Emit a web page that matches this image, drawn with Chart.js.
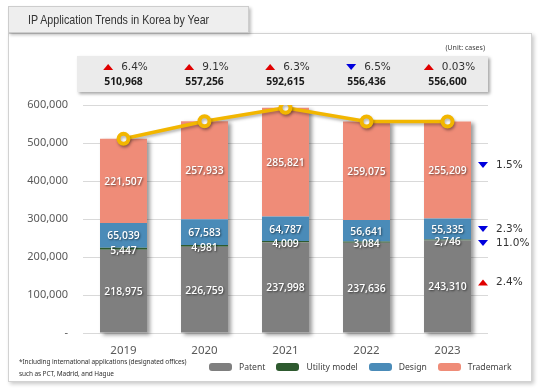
<!DOCTYPE html>
<html>
<head>
<meta charset="utf-8">
<script src="https://cdn.jsdelivr.net/npm/chart.js@4.4.1/dist/chart.umd.min.js"></script>
<style>
  html, body { margin: 0; padding: 0; background: #fff; }
  body { width: 545px; height: 391px; position: relative; overflow: hidden; font-family: "Noto Sans", sans-serif; }
  .frame { position: absolute; left: 8px; top: 33px; width: 522px; height: 347px; border: 1px solid #d2d2d2; background: #fff; box-shadow: 2px 2px 4px rgba(0,0,0,0.22); }
  .title { position: absolute; left: 8px; top: 6px; width: 239px; height: 25px; border: 1px solid #cdcdcd; background: #eeeeee; box-shadow: 2px 2px 3px rgba(0,0,0,0.25); z-index: 2; }
  .title span { position: absolute; left: 19px; top: 5px; font: 13px "Liberation Sans", Arial, sans-serif; color: #333; white-space: nowrap; transform: scaleX(0.82); transform-origin: left center; }
  #chart { position: absolute; left: 0; top: 0; z-index: 1; }
  .note { position: absolute; left: 19px; top: 356px; font-size: 6.5px; line-height: 12px; color: #333; z-index: 3; letter-spacing: -0.1px; }
  #legend { position: absolute; left: 209px; top: 361px; display: flex; align-items: center; font-size: 8.6px; color: #404040; z-index: 3; }
  #legend .item { display: flex; align-items: center; margin-right: 11px; }
  #legend .box { width: 23px; height: 8px; border-radius: 3px; margin-right: 7px; }
</style>
</head>
<body>
<div class="frame"></div>
<div class="title"><span>IP Application Trends in Korea by Year</span></div>
<canvas id="chart" width="545" height="391"></canvas>
<div class="note">*Including international applications (designated offices)<br>such as PCT, Madrid, and Hague</div>
<div id="legend"></div>
<script>
const years = ["2019", "2020", "2021", "2022", "2023"];

const patent = [218975, 226759, 237998, 237636, 243310];
const utilityModel = [5447, 4981, 4009, 3084, 2746];
const design = [65039, 67583, 64787, 56641, 55335];
const trademark = [221507, 257933, 285821, 259075, 255209];

const totals = [510968, 557256, 592615, 556436, 556600];
const totalChange = [6.4, 9.1, 6.3, -6.5, 0.03];

// 2023 change by type: patent, utility model, design, trademark
const typeChange2023 = [2.4, -11.0, -2.3, -1.5];

const yTicks = [0, 100000, 200000, 300000, 400000, 500000, 600000];

const fmt = (n) => n.toLocaleString("en-US");
const pctText = (v) => Math.abs(v).toFixed(Math.abs(v) < 0.1 ? 2 : 1) + "%";

function triangle(ctx, cx, cy, up) {
  ctx.beginPath();
  if (up) {
    ctx.moveTo(cx - 5, cy + 3);
    ctx.lineTo(cx + 5, cy + 3);
    ctx.lineTo(cx, cy - 3);
  } else {
    ctx.moveTo(cx - 5, cy - 3);
    ctx.lineTo(cx + 5, cy - 3);
    ctx.lineTo(cx, cy + 3);
  }
  ctx.closePath();
  ctx.fillStyle = up ? "#e00000" : "#0000dd";
  ctx.fill();
}

const headerBox = {
  id: "headerBox",
  beforeDraw(chart) {
    const { ctx, chartArea, scales: { x } } = chart;
    ctx.save();
    ctx.shadowColor = "rgba(0,0,0,0.35)";
    ctx.shadowBlur = 3;
    ctx.shadowOffsetX = 2;
    ctx.shadowOffsetY = 2;
    ctx.fillStyle = "#ebebeb";
    ctx.fillRect(chartArea.left - 6, 56, chartArea.right - chartArea.left + 6, 36);
    ctx.restore();

    ctx.save();
    ctx.textBaseline = "middle";
    ctx.fillStyle = "#404040";
    ctx.font = '7px "Noto Sans"';
    ctx.textAlign = "right";
    ctx.fillText("(Unit: cases)", chartArea.right - 3, 48);

    totals.forEach((t, i) => {
      const cx = x.getPixelForValue(i);
      const label = pctText(totalChange[i]);
      ctx.font = '10.5px "DejaVu Sans"';
      const tw = ctx.measureText(label).width;
      const start = cx - (18 + tw) / 2 + 2;
      triangle(ctx, start + 5, 67, totalChange[i] >= 0);
      ctx.fillStyle = "#333";
      ctx.textAlign = "left";
      ctx.fillText(label, start + 18, 67);

      ctx.font = 'bold 10.4px "Open Sans"';
      ctx.textAlign = "center";
      ctx.fillStyle = "#1a1a1a";
      ctx.fillText(fmt(t), cx, 82);
    });
    ctx.restore();
  },
  beforeDatasetsDraw(chart) {
    // one drop shadow per whole stacked bar
    const { ctx } = chart;
    const bottom = chart.getDatasetMeta(0).data;
    const top = chart.getDatasetMeta(3).data;
    ctx.save();
    ctx.shadowColor = "rgba(0,0,0,0.4)";
    ctx.shadowBlur = 4;
    ctx.shadowOffsetX = 3;
    ctx.shadowOffsetY = 2;
    ctx.fillStyle = "#fff";
    bottom.forEach((el, i) => {
      const t = top[i];
      ctx.fillRect(el.x - el.width / 2, t.y, el.width, el.base - t.y);
    });
    ctx.restore();
  },
  beforeDatasetDraw(chart, args) {
    if (args.meta.type === "line") {
      const ctx = chart.ctx;
      ctx.save();
      ctx.shadowColor = "rgba(0,0,0,0.3)";
      ctx.shadowBlur = 3;
      ctx.shadowOffsetX = 1;
      ctx.shadowOffsetY = 2;
    }
  },
  afterDatasetDraw(chart, args) {
    if (args.meta.type === "line") chart.ctx.restore();
  },
  afterDatasetsDraw(chart) {
    const { ctx } = chart;
    ctx.save();
    ctx.font = '600 10.4px "Open Sans"';
    ctx.textAlign = "center";
    ctx.textBaseline = "middle";
    ctx.fillStyle = "#fff";
    ctx.shadowColor = "rgba(0,0,0,0.55)";
    ctx.shadowBlur = 2;
    ctx.shadowOffsetX = 1;
    ctx.shadowOffsetY = 1;
    for (let d = 0; d < 4; d++) {
      const meta = chart.getDatasetMeta(d);
      const values = chart.data.datasets[d].data;
      meta.data.forEach((el, i) => {
        const yc = (el.y + el.base) / 2 + (d === 1 ? 2 : 1);
        ctx.fillText(fmt(values[i]), el.x, yc);
      });
    }
    ctx.restore();
  },
  afterDraw(chart) {
    const { ctx, chartArea } = chart;
    const nudge = [-4, 3, 0, -5];
    ctx.save();
    ctx.textBaseline = "middle";
    ctx.textAlign = "left";
    ctx.font = '10.5px "DejaVu Sans"';
    for (let d = 0; d < 4; d++) {
      const meta = chart.getDatasetMeta(d);
      const el = meta.data[meta.data.length - 1];
      const yc = (el.y + el.base) / 2 + nudge[d];
      triangle(ctx, chartArea.right - 5, yc, typeChange2023[d] >= 0);
      ctx.fillStyle = "#333";
      ctx.fillText(pctText(typeChange2023[d]), chartArea.right + 8, yc);
    }
    ctx.restore();
  },
};

const barStyle = { stack: "s", order: 1, barPercentage: 0.58, categoryPercentage: 1, borderWidth: 0 };

const chart = new Chart(document.getElementById("chart"), {
  type: "bar",
  data: {
    labels: years,
    datasets: [
      { label: "Patent", data: patent, backgroundColor: "#7f7f7f", ...barStyle },
      { label: "Utility model", data: utilityModel, backgroundColor: "#2e5a2f", ...barStyle },
      { label: "Design", data: design, backgroundColor: "#4a8bb8", ...barStyle },
      { label: "Trademark", data: trademark, backgroundColor: "#ef8c78", ...barStyle },
      {
        type: "line",
        label: "Total",
        data: totals,
        order: 0,
        borderColor: "#f2b600",
        borderWidth: 3.5,
        pointRadius: 5,
        pointBorderWidth: 4,
        pointBackgroundColor: "#fff",
        pointBorderColor: "#f2b600",
        tension: 0,
      },
    ],
  },
  options: {
    responsive: false,
    animation: false,
    devicePixelRatio: 1,
    layout: { padding: { top: 105, right: 57, bottom: 30, left: 0 } },
    plugins: { legend: { display: false }, tooltip: { enabled: false } },
    scales: {
      x: {
        stacked: true,
        grid: { display: false },
        border: { display: false },
        ticks: { padding: 3, color: "#595959", font: { family: "Noto Sans", size: 11.5 } },
        afterFit: (s) => { s.height = 28; },
      },
      y: {
        stacked: true,
        min: 0,
        max: 600000,
        afterBuildTicks: (s) => { s.ticks = yTicks.map((v) => ({ value: v })); },
        grid: { color: "#d9d9d9", drawTicks: false },
        border: { display: false },
        ticks: {
          padding: 15,
          color: "#595959",
          font: { family: "Noto Sans", size: 11 },
          callback: (v) => (v === 0 ? "-" : fmt(v)),
        },
        afterFit: (s) => { s.width = 83; },
      },
    },
  },
  plugins: [headerBox],
});

const legendEl = document.getElementById("legend");
chart.data.datasets.slice(0, 4).forEach((ds) => {
  const item = document.createElement("div");
  item.className = "item";
  item.innerHTML = `<span class="box" style="background:${ds.backgroundColor}"></span><span>${ds.label}</span>`;
  legendEl.appendChild(item);
});
</script>
</body>
</html>
